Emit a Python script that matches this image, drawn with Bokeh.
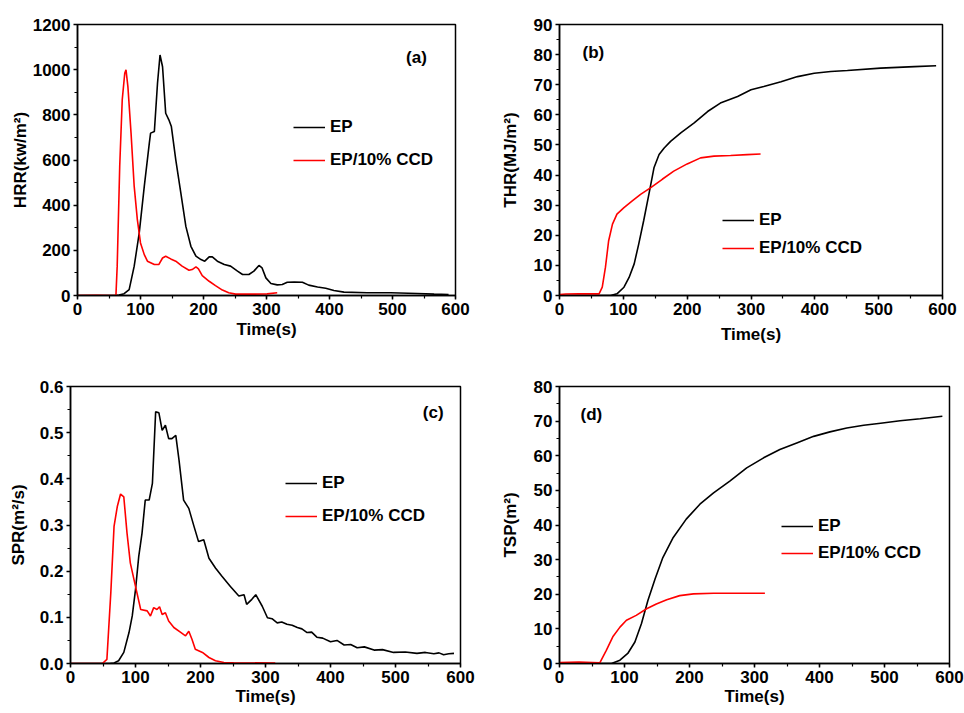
from bokeh.plotting import figure
from bokeh.models import Range1d, SingleIntervalTicker, PrintfTickFormatter, Legend, LegendItem, Label
from bokeh.layouts import column, row
from bokeh.embed import file_html
from bokeh.resources import INLINE

# ---------------- data ----------------
# (a) HRR (kW/m2)
hrr_ep_t = [0, 60, 66, 74, 82, 90, 98, 106, 114, 116, 122, 127, 131, 135, 140, 145, 149, 156, 164, 172,
            180, 188, 196, 202, 209, 214, 222, 233, 243, 254, 262, 272, 280, 288, 293, 299, 307, 317,
            325, 333, 344, 357, 367, 381, 394, 407, 423, 460, 497, 539, 566, 589]
hrr_ep_v = [0, 0, 2, 8, 26, 130, 277, 483, 675, 719, 726, 940, 1065, 1013, 807, 778, 748, 601, 454, 306,
            218, 174, 159, 152, 171, 171, 152, 137, 130, 108, 93, 93, 108, 133, 122, 78, 53, 47,
            49, 59, 60, 59, 46, 38, 32, 22, 15, 12, 12, 9, 6, 4]
hrr_ccd_t = [0, 30, 50, 61, 63, 67, 71, 75, 77, 80, 85, 90, 95, 100, 106, 111, 122, 129, 135, 140, 148,
             156, 166, 177, 182, 188, 192, 198, 209, 219, 230, 240, 251, 280, 301, 317]
hrr_ccd_v = [0, 1, 0, 0, 130, 571, 866, 984, 999, 925, 719, 483, 336, 233, 181, 152, 137, 137, 166, 174, 162,
             152, 130, 112, 115, 127, 118, 88, 63, 44, 24, 12, 6, 6, 7, 12]

# (b) THR (MJ/m2)
thr_ep_t = [0, 80, 90, 101, 109, 117, 124, 132, 140, 148, 156, 164, 174, 190, 211, 232, 252, 279, 300,
            320, 347, 373, 399, 425, 451, 503, 556, 590]
thr_ep_v = [0, 0, 0.55, 2.75, 6, 10.5, 17, 25, 33.6, 42.4, 46.8, 49, 51.2, 54, 57.3, 61.1, 63.9, 66.1, 68.3,
            69.4, 71, 72.7, 73.8, 74.4, 74.7, 75.5, 76, 76.3]
thr_ccd_t = [0, 10, 30, 62, 67, 72, 77, 83, 90, 101, 114, 127, 143, 161, 179, 200, 221, 242, 268, 294, 315]
thr_ccd_v = [0.3, 0.5, 0.6, 0.55, 2.75, 9.4, 18.2, 23.7, 27, 29.2, 31.4, 33.6, 35.8, 38.6, 41.3, 43.7, 45.7,
             46.3, 46.5, 46.8, 47]

# (c) SPR (m2/s)
spr_ep_t = [0, 60, 67, 74, 82, 90, 95, 100, 105, 110, 115, 121, 126, 131, 136, 141, 146, 151, 156, 162,
            167, 174, 182, 190, 197, 205, 213, 223, 233, 246, 259, 267, 271, 279, 285, 295, 303, 310,
            318, 325, 333, 341, 349, 356, 364, 371, 379, 388, 400, 410, 421, 431, 441, 452, 467, 480,
            497, 515, 533, 546, 559, 567, 574, 582, 590]
spr_ep_v = [0, 0, 0.001, 0.006, 0.024, 0.067, 0.103, 0.160, 0.232, 0.282, 0.354, 0.354, 0.390, 0.545, 0.543,
            0.505, 0.516, 0.487, 0.487, 0.494, 0.440, 0.354, 0.336, 0.297, 0.264, 0.268, 0.228, 0.207,
            0.189, 0.167, 0.146, 0.149, 0.128, 0.139, 0.149, 0.124, 0.099, 0.097, 0.088, 0.090, 0.085,
            0.083, 0.078, 0.075, 0.067, 0.068, 0.057, 0.055, 0.047, 0.050, 0.040, 0.041, 0.034, 0.036,
            0.029, 0.030, 0.024, 0.025, 0.022, 0.024, 0.021, 0.023, 0.019, 0.021, 0.022]
spr_ccd_t = [0, 49, 56, 62, 67, 72, 77, 82, 87, 92, 100, 108, 118, 123, 128, 133, 137, 141, 146, 151, 159,
             169, 177, 182, 187, 192, 203, 213, 223, 236, 251, 315]
spr_ccd_v = [0, 0, 0.009, 0.153, 0.297, 0.340, 0.367, 0.361, 0.282, 0.218, 0.167, 0.117, 0.114, 0.103,
             0.121, 0.117, 0.123, 0.106, 0.110, 0.092, 0.078, 0.068, 0.060, 0.070, 0.052, 0.031, 0.024,
             0.013, 0.006, 0.002, 0.0015, 0.001]

# (d) TSP (m2)
tsp_ep_t = [0, 80, 93, 105, 116, 126, 136, 147, 159, 175, 195, 216, 237, 262, 288, 314, 339, 365, 391,
            416, 442, 468, 494, 524, 555, 589]
tsp_ep_v = [0, 0, 0.96, 2.9, 6.2, 11.5, 18.2, 24.4, 30.6, 36.4, 41.7, 46, 49.3, 52.7, 56.5, 59.4, 61.8,
            63.7, 65.6, 66.9, 68, 68.8, 69.4, 70.1, 70.7, 71.4]
tsp_ccd_t = [0, 30, 62, 72, 82, 93, 103, 118, 134, 149, 165, 185, 206, 237, 288, 316]
tsp_ccd_v = [0.3, 0.4, 0.2, 3.8, 7.7, 10.5, 12.5, 13.9, 15.8, 17.2, 18.4, 19.6, 20.1, 20.3, 20.3, 20.3]

series_labels = ["EP", "EP/10% CCD"]
x_label = "Time(s)"

FONT = "Liberation Sans"
FS = "17px"


def make_panel(w, h, borders, ymax, ystep, ylabel, ep_t, ep_v, ccd_t, ccd_v, tag, tag_xy,
               leg_loc, leg_spacing, ylab_standoff, xlab_standoff, fmt=None):
    left, right, top, bottom = borders
    p = figure(width=w, height=h, output_backend="svg", toolbar_location=None,
               x_range=Range1d(0, 600), y_range=Range1d(0, ymax * 1.000001),
               min_border_left=left, min_border_right=right,
               min_border_top=top, min_border_bottom=bottom)
    p.xgrid.visible = False
    p.ygrid.visible = False
    p.outline_line_color = "black"
    p.outline_line_width = 1.5
    p.outline_line_alpha = 1
    p.background_fill_color = "white"
    p.border_fill_color = "white"

    p.xaxis.ticker = SingleIntervalTicker(interval=100, num_minor_ticks=2)
    p.yaxis.ticker = SingleIntervalTicker(interval=ystep, num_minor_ticks=2)
    if fmt:
        p.yaxis.formatter = PrintfTickFormatter(format=fmt)
    for ax in (p.xaxis[0], p.yaxis[0]):
        ax.axis_line_width = 1.5
        ax.axis_line_color = "black"
        ax.major_tick_line_color = "black"
        ax.minor_tick_line_color = "black"
        ax.major_tick_line_width = 1.5
        ax.minor_tick_line_width = 1.2
        ax.major_tick_out = 4
        ax.major_tick_in = 0
        ax.minor_tick_out = 3
        ax.minor_tick_in = 0
        ax.major_label_text_font = FONT
        ax.major_label_text_font_style = "bold"
        ax.major_label_text_font_size = FS
        ax.major_label_text_color = "black"
        ax.major_label_standoff = 3
        ax.axis_label_text_font = FONT
        ax.axis_label_text_font_style = "bold"
        ax.axis_label_text_font_size = FS
        ax.axis_label_text_color = "black"
    p.xaxis.axis_label = x_label
    p.yaxis.axis_label = ylabel
    p.yaxis.axis_label_standoff = ylab_standoff
    p.xaxis.axis_label_standoff = xlab_standoff

    r1 = p.line(ep_t, ep_v, line_color="black", line_width=1.6)
    r2 = p.line(ccd_t, ccd_v, line_color="#ff0000", line_width=1.6)

    leg = Legend(items=[LegendItem(label=series_labels[0], renderers=[r1]),
                        LegendItem(label=series_labels[1], renderers=[r2])],
                 location=leg_loc, padding=0, margin=0, spacing=leg_spacing,
                 glyph_width=32, glyph_height=20, label_height=20, label_standoff=5,
                 label_text_font=FONT, label_text_font_style="bold", label_text_font_size=FS,
                 label_text_color="black",
                 border_line_alpha=0, background_fill_alpha=0)
    p.add_layout(leg)

    p.add_layout(Label(x=tag_xy[0], y=tag_xy[1], text=tag, text_align="center",
                       text_baseline="middle", text_font=FONT, text_font_style="bold",
                       text_font_size=FS, text_color="black"))
    return p


pa = make_panel(480, 350, (77, 25, 24, 54), 1200, 200, "HRR(kw/m²)",
                hrr_ep_t, hrr_ep_v, hrr_ccd_t, hrr_ccd_v, "(a)", (538, 1054),
                (216, 125), 13, 0, 2)
pb = make_panel(484, 350, (79, 22, 23, 55), 90, 10, "THR(MJ/m²)",
                thr_ep_t, thr_ep_v, thr_ccd_t, thr_ccd_v, "(b)", (53, 80.7),
                (163, 37), 8, 11, 7)
pc = make_panel(480, 363, (70, 20, 36, 49), 0.6, 0.1, "SPR(m²/s)",
                spr_ep_t, spr_ep_v, spr_ccd_t, spr_ccd_v, "(c)", (558, 0.544),
                (215, 137), 13, 9, 1, fmt="%.1f")
pd = make_panel(484, 363, (79, 15, 35, 50), 80, 10, "TSP(m²)",
                tsp_ep_t, tsp_ep_v, tsp_ccd_t, tsp_ccd_v, "(d)", (49, 72),
                (222, 100), 7, 11, 1)

layout = column(row(pa, pb, spacing=0), row(pc, pd, spacing=0), spacing=0)

open("out.html", "w").write(file_html(layout, INLINE))
